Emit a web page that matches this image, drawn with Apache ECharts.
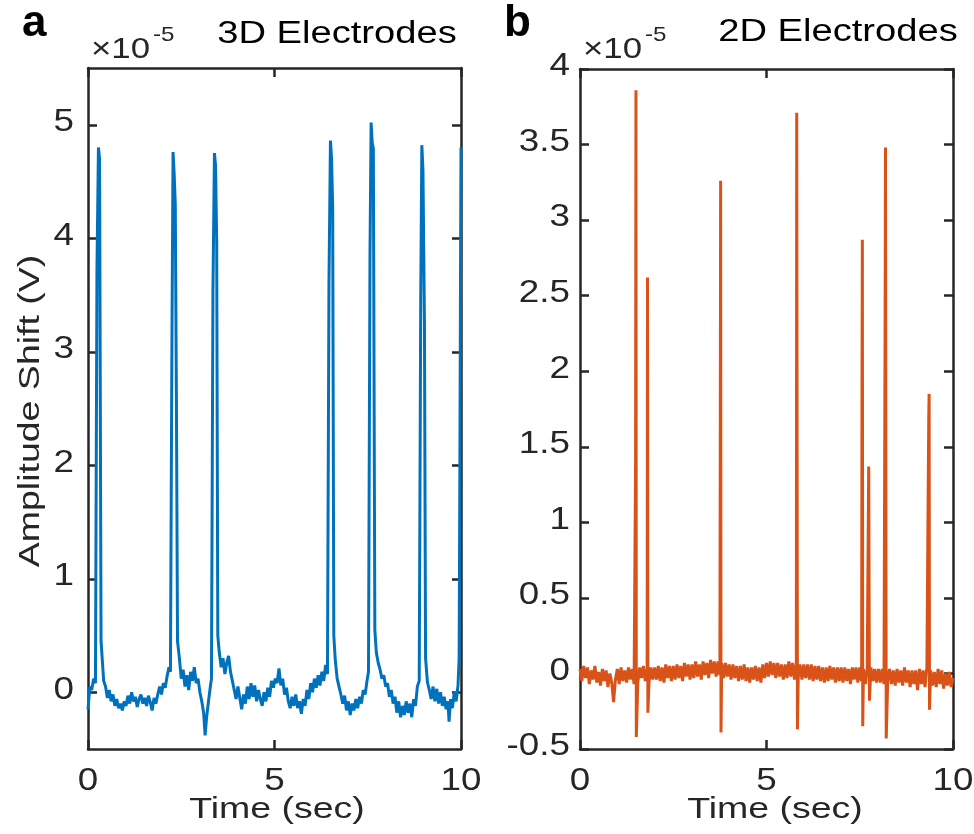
<!DOCTYPE html>
<html><head><meta charset="utf-8">
<script src="https://cdn.jsdelivr.net/npm/echarts@6/dist/echarts.min.js"></script>
<style>html,body{margin:0;padding:0;background:#fff}#chart{width:974px;height:834px}</style>
</head><body><div id="chart"></div>
<script>
// ---- data (amplitudes in units of 1e-5 V) ----
const time3d = [
  0.00,0.05,0.10,0.15,0.20,0.24,0.28,0.31,0.35,0.38,0.42,0.47,0.52,0.57,0.62,0.67,0.72,0.77,0.82,0.87,0.92,0.97,
  1.02,1.07,1.12,1.17,1.22,1.27,1.32,1.37,1.42,1.47,1.52,1.57,1.62,1.67,1.72,1.77,1.82,1.87,1.92,1.97,
  2.02,2.07,2.12,2.17,2.21,2.25,2.28,2.31,2.34,2.37,2.40,2.45,2.50,2.55,2.60,2.65,2.70,2.75,2.80,2.85,2.90,2.95,
  3.00,3.05,3.10,3.14,3.18,3.23,3.28,3.31,3.35,3.39,3.42,3.45,3.48,3.52,3.57,3.62,3.67,3.72,3.77,3.82,3.87,3.92,3.97,
  4.02,4.07,4.12,4.17,4.22,4.27,4.32,4.37,4.42,4.47,4.52,4.57,4.62,4.67,4.72,4.77,4.82,4.87,4.92,4.97,
  5.02,5.07,5.12,5.17,5.22,5.27,5.32,5.37,5.42,5.47,5.52,5.57,5.62,5.67,5.72,5.77,5.82,5.87,5.92,5.97,
  6.02,6.07,6.12,6.17,6.22,6.27,6.32,6.37,6.42,6.46,6.50,6.53,6.56,6.59,6.63,6.68,6.73,6.78,6.83,6.88,6.93,6.98,
  7.03,7.08,7.13,7.18,7.23,7.28,7.33,7.38,7.43,7.48,7.52,7.56,7.59,7.62,7.65,7.69,7.73,7.78,7.83,7.88,7.93,7.98,
  8.03,8.08,8.13,8.18,8.23,8.28,8.33,8.38,8.43,8.48,8.53,8.58,8.63,8.68,8.73,8.78,8.83,8.88,8.92,8.95,8.98,9.02,
  9.05,9.10,9.15,9.20,9.25,9.30,9.35,9.40,9.45,9.50,9.55,9.60,9.65,9.68,9.72,9.77,9.82,9.87,9.92,9.95,9.97,9.99,10.00
];
const amp3d = [
  -0.15,0.05,0.02,0.12,0.08,3.72,4.80,4.70,0.45,0.30,0.10,0.05,-0.05,0.02,-0.08,-0.02,-0.12,-0.06,-0.14,-0.10,-0.16,-0.08,
  -0.12,-0.03,-0.10,0.00,-0.08,-0.04,-0.13,-0.06,-0.02,-0.10,-0.05,-0.12,-0.03,-0.09,-0.16,-0.05,-0.10,-0.02,0.05,-0.02,
  0.08,0.04,0.14,0.22,0.18,3.08,4.76,4.57,4.30,2.60,0.45,0.30,0.12,0.20,0.05,0.15,0.02,0.18,0.10,0.22,0.08,0.12,
  0.00,-0.08,-0.18,-0.38,-0.22,-0.08,0.05,0.12,3.54,4.75,4.64,3.98,0.50,0.35,0.22,0.30,0.16,0.26,0.32,0.18,0.10,0.02,-0.06,
  0.05,-0.05,-0.15,-0.02,-0.10,0.05,-0.06,0.08,-0.04,0.06,-0.08,0.02,-0.06,-0.12,0.00,-0.08,0.04,-0.04,0.10,0.04,
  0.12,0.08,0.21,0.06,0.12,-0.02,0.04,-0.08,-0.14,-0.04,-0.12,-0.02,-0.14,-0.08,-0.19,-0.06,-0.12,0.02,-0.06,0.08,
  0.00,0.12,0.04,0.15,0.06,0.18,0.10,0.24,0.16,3.60,4.86,4.70,4.27,0.50,0.28,0.12,0.05,-0.02,-0.10,-0.03,-0.16,-0.08,
  -0.20,-0.10,-0.16,-0.06,-0.14,-0.04,-0.10,0.02,-0.02,0.10,0.18,3.85,5.02,4.84,4.79,0.55,0.35,0.26,0.20,0.12,0.15,0.05,
  0.08,-0.04,0.02,-0.10,-0.04,-0.18,-0.08,-0.22,-0.12,-0.20,-0.08,-0.18,-0.10,-0.22,-0.06,-0.12,0.05,0.10,3.45,4.82,4.60,3.25,
  0.30,0.09,0.02,-0.06,0.05,-0.08,0.03,-0.10,0.00,-0.12,-0.04,-0.15,-0.08,-0.26,-0.06,-0.14,0.00,-0.08,0.06,0.30,2.00,3.98,4.80
];
const time2d = [
  0.00,0.05,0.10,0.15,0.20,0.25,0.30,0.35,0.40,0.45,0.50,0.55,0.60,0.65,0.70,0.75,0.80,0.85,0.90,0.95,
  1.00,1.05,1.10,1.15,1.20,1.25,1.30,1.35,1.40,1.45,1.49,1.50,1.51,1.55,1.60,1.65,1.70,1.75,1.80,1.81,1.82,1.85,1.90,1.95,
  2.00,2.05,2.10,2.15,2.20,2.25,2.30,2.35,2.40,2.45,2.50,2.55,2.60,2.65,2.70,2.75,2.80,2.85,2.90,2.95,
  3.00,3.05,3.10,3.15,3.20,3.25,3.30,3.35,3.40,3.45,3.50,3.55,3.60,3.65,3.70,3.75,3.76,3.77,3.78,3.80,3.85,3.90,3.95,
  4.00,4.05,4.10,4.15,4.20,4.25,4.30,4.35,4.40,4.45,4.50,4.55,4.60,4.65,4.70,4.75,4.80,4.85,4.90,4.95,
  5.00,5.05,5.10,5.15,5.20,5.25,5.30,5.35,5.40,5.45,5.50,5.55,5.60,5.65,5.70,5.75,5.80,5.81,5.83,5.85,5.90,5.95,
  6.00,6.05,6.10,6.15,6.20,6.25,6.30,6.35,6.40,6.45,6.50,6.55,6.60,6.65,6.70,6.75,6.80,6.85,6.90,6.95,
  7.00,7.05,7.10,7.15,7.20,7.25,7.30,7.35,7.40,7.45,7.50,7.55,7.56,7.57,7.58,7.60,7.65,7.70,7.74,7.76,7.80,7.85,7.90,7.95,
  8.00,8.05,8.10,8.15,8.18,8.19,8.21,8.25,8.30,8.35,8.40,8.45,8.50,8.55,8.60,8.65,8.70,8.75,8.80,8.85,8.90,8.95,
  9.00,9.05,9.10,9.15,9.20,9.25,9.30,9.35,9.36,9.37,9.40,9.45,9.50,9.55,9.60,9.65,9.70,9.75,9.80,9.85,9.90,9.95,10.00
];
const amp2d = [
  0.03,-0.05,0.05,-0.03,0.04,-0.07,0.02,-0.04,0.05,-0.06,0.01,-0.08,0.03,-0.05,0.02,-0.09,0.00,-0.06,-0.19,-0.04,
  0.03,-0.07,0.04,-0.05,0.02,-0.06,0.04,-0.04,0.03,-0.07,1.40,3.86,-0.42,-0.06,0.04,-0.03,0.05,-0.05,0.03,2.62,-0.26,-0.06,0.04,-0.04,
  0.04,-0.04,0.05,-0.05,0.04,-0.06,0.06,-0.03,0.05,-0.05,0.05,-0.04,0.06,-0.03,0.05,-0.05,0.07,-0.02,0.06,-0.04,
  0.06,-0.03,0.08,-0.02,0.06,-0.04,0.08,-0.01,0.07,-0.03,0.09,0.00,0.08,-0.02,0.08,-0.01,1.40,3.26,-0.39,0.07,-0.03,0.07,-0.02,
  0.06,-0.04,0.06,-0.03,0.05,-0.05,0.05,-0.04,0.06,-0.05,0.04,-0.06,0.04,-0.04,0.05,-0.05,0.04,-0.06,0.06,-0.03,
  0.07,-0.02,0.08,-0.01,0.07,-0.03,0.07,-0.02,0.06,-0.04,0.06,-0.03,0.08,-0.02,0.07,-0.04,0.07,3.71,-0.37,-0.03,0.06,-0.04,
  0.06,-0.03,0.06,-0.04,0.06,-0.05,0.05,-0.04,0.05,-0.05,0.04,-0.06,0.04,-0.05,0.05,-0.04,0.04,-0.06,0.04,-0.05,
  0.04,-0.06,0.04,-0.05,0.03,-0.07,0.04,-0.04,0.04,-0.06,0.04,-0.05,1.87,2.87,-0.35,0.03,-0.07,0.03,1.37,-0.18,0.04,-0.05,0.03,-0.06,
  0.03,-0.06,0.03,-0.07,2.35,3.48,-0.43,-0.05,0.03,-0.07,0.02,-0.08,0.03,-0.06,0.02,-0.08,0.04,-0.06,0.02,-0.09,0.02,-0.07,
  0.02,-0.11,0.03,-0.07,0.02,-0.09,0.04,1.70,1.85,-0.24,0.02,-0.08,0.01,-0.09,0.03,-0.07,0.02,-0.10,0.00,-0.08,0.01,-0.09,-0.03
];
const xTicks = [0, 5, 10];
const yTicks3d = [0, 1, 2, 3, 4, 5];
const yTicks2d = [-0.5, 0, 0.5, 1, 1.5, 2, 2.5, 3, 3.5, 4];
const panelLetters = ['a', 'b'];
const panelTitles = ['3D Electrodes', '2D Electrodes'];
const xLabel = 'Time (sec)';
const yLabel = 'Amplitude Shift (V)';
const expBase = '\u00d710';
const expPow = '-5';

// ---- chart ----
const AX = '#262626';
const FONT = '"Liberation Sans", Arial, Helvetica, sans-serif';
const chart = echarts.init(document.getElementById('chart'), null, {renderer: 'canvas'});

function xAxis(grid, pos) {
  return {
    type: 'value', gridIndex: grid, position: pos, min: 0, max: 10, interval: 5,
    axisLine: {show: true, onZero: false, lineStyle: {color: AX, width: 2.5}},
    axisTick: {show: true, inside: true, length: 9, lineStyle: {color: AX, width: 2.5}},
    axisLabel: {show: false},
    splitLine: {show: false}
  };
}
function yAxis(grid, pos, extra) {
  return Object.assign({
    type: 'value', gridIndex: grid, position: pos,
    axisLine: {show: true, onZero: false, lineStyle: {color: AX, width: 2.5}},
    axisTick: {show: true, inside: true, length: 9, lineStyle: {color: AX, width: 2.5}},
    axisLabel: {show: false},
    splitLine: {show: false}
  }, extra);
}
const y3 = {min: -0.5, max: 5.5};
const y2 = {min: -0.5, max: 4, interval: 0.5};
const yA0 = yAxis(0, 'left', y3); yA0.axisTick.customValues = yTicks3d;
const yA1 = yAxis(0, 'right', y3); yA1.axisTick.customValues = yTicks3d;

function txt(x, y, text, size, opts) {
  opts = opts || {};
  return {
    type: 'text', x: x, y: y, rotation: opts.rot || 0, scaleX: opts.sx || 1, scaleY: 1,
    silent: true,
    style: {
      text: text, fill: opts.color || AX,
      font: (opts.bold ? 'bold ' : '') + size + 'px ' + FONT,
      textAlign: opts.align || 'center', textVerticalAlign: 'middle',
      align: opts.align || 'center', verticalAlign: 'middle'
    }
  };
}

const option = {
  animation: false,
  backgroundColor: '#fff',
  grid: [
    {left: 88, top: 68, width: 373, height: 681, outerBoundsMode: 'none', containLabel: false},
    {left: 580, top: 69, width: 373, height: 680, outerBoundsMode: 'none', containLabel: false}
  ],
  xAxis: [xAxis(0, 'bottom'), xAxis(0, 'top'), xAxis(1, 'bottom'), xAxis(1, 'top')],
  yAxis: [yA0, yA1, yAxis(1, 'left', y2), yAxis(1, 'right', y2)],
  series: [
    {type: 'line', xAxisIndex: 0, yAxisIndex: 0, showSymbol: false, symbol: 'none',
      lineStyle: {color: '#0072BD', width: 3}, itemStyle: {color: '#0072BD'},
      data: time3d.map((t, i) => [t, amp3d[i]])},
    {type: 'line', xAxisIndex: 2, yAxisIndex: 2, showSymbol: false, symbol: 'none',
      lineStyle: {color: '#D95319', width: 3}, itemStyle: {color: '#D95319'},
      data: time2d.map((t, i) => [t, amp2d[i]])}
  ]
};
chart.setOption(option);

// ---- texts (tick labels placed through the axes' own scales) ----
const TS = 1.15;
const graphics = [
  txt(22, 24, panelLetters[0], 44, {bold: true, align: 'left', color: '#000'}),
  txt(504, 24, panelLetters[1], 44, {bold: true, align: 'left', color: '#000'}),
  txt(337, 34, panelTitles[0], 31, {sx: 1.23, color: '#000'}),
  txt(838, 32, panelTitles[1], 31, {sx: 1.23, color: '#000'}),
  txt(277, 810, xLabel, 30, {sx: 1.25}),
  txt(775, 810, xLabel, 30, {sx: 1.25}),
  txt(31, 411, yLabel, 30, {sx: 1.25, rot: Math.PI / 2}),
  txt(91, 50, expBase, 29, {align: 'left', sx: 1.2}),
  txt(153, 35, expPow, 21, {align: 'left', sx: 1.15}),
  txt(583, 50, expBase, 29, {align: 'left', sx: 1.2}),
  txt(645, 35, expPow, 21, {align: 'left', sx: 1.15})
];
xTicks.forEach(v => {
  [0, 2].forEach(ai => {
    const px = chart.convertToPixel({xAxisIndex: ai}, v);
    graphics.push(txt(px, 781, String(v), 32, {sx: TS}));
  });
});
yTicks3d.forEach(v => {
  const py = chart.convertToPixel({yAxisIndex: 0}, v);
  graphics.push(txt(74, py - 2.5, String(v), 32, {sx: TS, align: 'right'}));
});
yTicks2d.forEach(v => {
  const py = chart.convertToPixel({yAxisIndex: 2}, v);
  graphics.push(txt(570, py - 2.5, String(v), 32, {sx: TS, align: 'right'}));
});
chart.setOption({graphic: graphics});
</script></body></html>
